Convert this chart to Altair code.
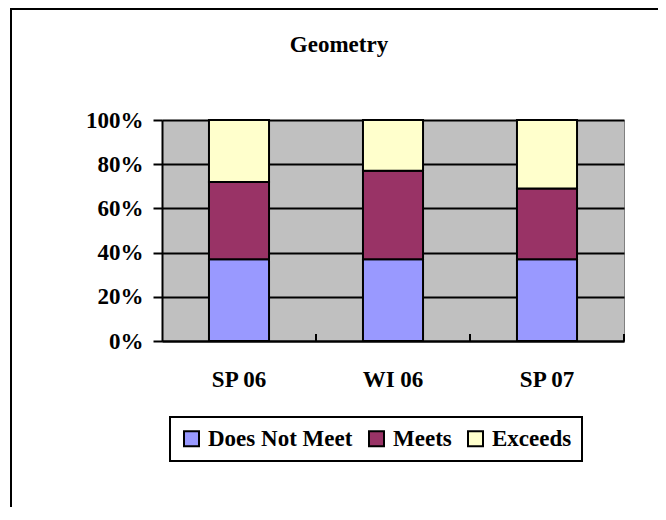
import altair as alt
import pandas as pd

periods = ["SP 06", "WI 06", "SP 07"]
series = ["Does Not Meet", "Meets", "Exceeds"]
does_not_meet = [37, 37, 37]
meets = [35, 40, 32]
exceeds = [28, 23, 31]
colors = ["#9999FF", "#993366", "#FFFFCC"]

rows = []
for i, p in enumerate(periods):
    for j, (s, vals) in enumerate(zip(series, [does_not_meet, meets, exceeds])):
        rows.append({"period": p, "level": s, "value": vals[i], "order": j})
df = pd.DataFrame(rows)
ticks_df = pd.DataFrame({"period": periods})

FONT = "Liberation Serif"

x_enc = alt.X("period:N", sort=periods,
              scale=alt.Scale(paddingInner=0, paddingOuter=0),
              axis=alt.Axis(title=None, labelAngle=0, ticks=False, tickSize=0,
                            labelPadding=27, labelFont=FONT, labelFontSize=23,
                            labelFontWeight="bold", labelColor="black",
                            domainColor="black", domainWidth=2, grid=False))

bars = alt.Chart(df).mark_bar(
    stroke="black", strokeWidth=2, width=alt.RelativeBandSize(0.39)
).encode(
    x=x_enc,
    y=alt.Y("value:Q", stack="normalize",
            scale=alt.Scale(domain=[0, 1]),
            axis=alt.Axis(title=None, values=[0, 0.2, 0.4, 0.6, 0.8, 1.0],
                          format=".0%", labelFont=FONT, labelFontSize=23,
                          labelFontWeight="bold", labelColor="black",
                          labelPadding=10, tickSize=9, tickWidth=2,
                          tickColor="black", domainColor="black",
                          domainWidth=2, grid=True, gridColor="black",
                          gridWidth=2)),
    color=alt.Color("level:N", sort=series,
                    scale=alt.Scale(domain=series, range=colors),
                    legend=alt.Legend(title=None, orient="none",
                                      legendX=8, legendY=297,
                                      direction="horizontal")),
    order=alt.Order("order:Q", sort="ascending"),
)

xticks = alt.Chart(ticks_df).mark_rule(color="black", strokeWidth=2).encode(
    x=alt.X("period:N", sort=periods, bandPosition=1),
    y=alt.value(214),
    y2=alt.value(221),
)

frame = alt.Chart(ticks_df).mark_rect(
    filled=False, stroke="black", strokeWidth=2
).encode(
    x=alt.value(-151), x2=alt.value(700),
    y=alt.value(-111), y2=alt.value(600),
)

chart = alt.layer(frame, bars, xticks).properties(
    width=462, height=221,
    title=alt.TitleParams("Geometry", font=FONT, fontSize=23, fontWeight="bold",
                          color="black", anchor="middle", frame="group",
                          baseline="alphabetic", offset=0, dx=-54, dy=67),
    autosize=alt.AutoSizeParams(type="none"),
    padding={"left": 154, "top": 112, "right": 34, "bottom": 166},
    background="white",
).configure_view(
    fill="#C0C0C0", stroke="#808080", strokeWidth=1
).configure_legend(
    strokeColor="black", strokeWidth=2, fillColor="white", padding=10,
    cornerRadius=0, labelFont=FONT, labelFontSize=23, labelFontWeight="bold",
    labelColor="black", symbolType="square", symbolSize=225,
    symbolStrokeColor="black", symbolStrokeWidth=2, symbolOpacity=1,
    labelOffset=5, columnPadding=12
)

chart.save("out.html", embed_options={"renderer": "svg", "actions": False})
